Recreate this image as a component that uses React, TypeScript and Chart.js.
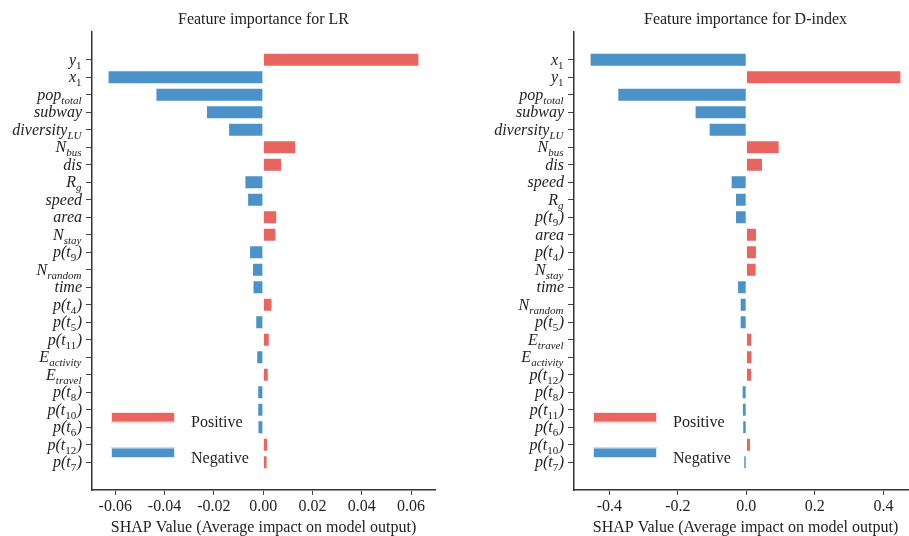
import React, { useEffect, useRef } from "react";
import { Chart, registerables } from "chart.js";

Chart.register(...registerables);

// ---- data ----
const lrFeatures = [
  "y_{1}", "x_{1}", "pop_{total}", "subway", "diversity_{LU}", "N_{bus}", "dis", "R_{g}",
  "speed", "area", "N_{stay}", "p(t_{9})", "N_{random}", "time", "p(t_{4})", "p(t_{5})",
  "p(t_{11})", "E_{activity}", "E_{travel}", "p(t_{8})", "p(t_{10})", "p(t_{6})", "p(t_{12})", "p(t_{7})",
];
const lrValues = [
  0.0634, -0.0631, -0.0437, -0.0232, -0.0142, 0.0134, 0.0077, -0.0076,
  -0.0065, 0.0057, 0.0054, -0.0057, -0.0045, -0.0043, 0.0038, -0.0032,
  0.0027, -0.0028, 0.0023, -0.0024, -0.0024, -0.0023, 0.002, 0.0018,
];
const lrTicks = [-0.06, -0.04, -0.02, 0, 0.02, 0.04, 0.06];

const dFeatures = [
  "x_{1}", "y_{1}", "pop_{total}", "subway", "diversity_{LU}", "N_{bus}", "dis", "speed",
  "R_{g}", "p(t_{9})", "area", "p(t_{4})", "N_{stay}", "time", "N_{random}", "p(t_{5})",
  "E_{travel}", "E_{activity}", "p(t_{12})", "p(t_{8})", "p(t_{11})", "p(t_{6})", "p(t_{10})", "p(t_{7})",
];
const dValues = [
  -0.4575, 0.4526, -0.3767, -0.151, -0.11, 0.0972, 0.0486, -0.0458,
  -0.033, -0.033, 0.031, 0.031, 0.03, -0.027, -0.0195, -0.0195,
  0.0175, 0.018, 0.017, -0.0137, -0.013, -0.012, 0.0136, -0.009,
];
const dTicks = [-0.4, -0.2, 0, 0.2, 0.4];

const legendLabels = ["Positive", "Negative"];
const xAxisTitle = "SHAP Value (Average impact on model output)";

const RED = "#E8665F";
const BLUE = "#4A92C8";
const SERIF = "'Liberation Serif', 'Times New Roman', serif";

type Seg = { text: string; sub: boolean };
function parseLabel(s: string): Seg[] {
  const out: Seg[] = [];
  const re = /_\{([^}]*)\}/g;
  let last = 0;
  let m: RegExpExecArray | null;
  while ((m = re.exec(s))) {
    if (m.index > last) out.push({ text: s.slice(last, m.index), sub: false });
    out.push({ text: m[1], sub: true });
    last = m.index + m[0].length;
  }
  if (last < s.length) out.push({ text: s.slice(last), sub: false });
  return out;
}

function segFont(seg: Seg) {
  if (!seg.sub) return `italic 16px ${SERIF}`;
  if (/^\d+$/.test(seg.text)) return `11px ${SERIF}`;
  return `italic 11px ${SERIF}`;
}

function makeChart(
  canvas: HTMLCanvasElement,
  features: string[],
  values: number[],
  ticks: number[],
  decimals: number,
  title: string
) {
  const n = features.length;
  const lo = Math.min(0, ...values);
  const hi = Math.max(0, ...values);
  const xpad = 0.05 * (hi - lo);
  const yspan = n - 1 + 0.8;
  const ymin = -0.4 - 0.05 * yspan;
  const ymax = n - 1 + 0.4 + 0.05 * yspan;

  const overlay = {
    id: "overlay",
    afterDraw(chart: any) {
      const ctx = chart.ctx as CanvasRenderingContext2D;
      const ca = chart.chartArea;
      const ys = chart.scales.y;
      const cx = (ca.left + ca.right) / 2;
      ctx.save();
      ctx.fillStyle = "#222";
      // title
      ctx.font = `16px ${SERIF}`;
      ctx.textAlign = "center";
      ctx.textBaseline = "alphabetic";
      ctx.fillText(title, cx, 24);
      // x axis title
      ctx.fillText(xAxisTitle, cx, 531.5);
      // y labels with subscripts
      ctx.textAlign = "left";
      features.forEach((lab, i) => {
        const segs = parseLabel(lab);
        let w = 0;
        segs.forEach((s) => {
          ctx.font = segFont(s);
          w += ctx.measureText(s.text).width + (s.sub ? 0.5 : 0);
        });
        const y = ys.getPixelForValue(i) + 5;
        let x = ca.left - 10 - w;
        segs.forEach((s) => {
          ctx.font = segFont(s);
          ctx.fillText(s.text, x, s.sub ? y + 4 : y);
          x += ctx.measureText(s.text).width + (s.sub ? 0.5 : 0);
        });
      });
      // legend
      const lx = ca.left + 19;
      const items = [
        { c: RED, top: ca.bottom - 78, base: ca.bottom - 63 },
        { c: BLUE, top: ca.bottom - 42.5, base: ca.bottom - 27 },
      ];
      ctx.font = `16px ${SERIF}`;
      items.forEach((it, k) => {
        ctx.fillStyle = it.c;
        ctx.fillRect(lx, it.top, 64, 10.5);
        ctx.strokeStyle = "rgba(255,255,255,0.8)";
        ctx.lineWidth = 1;
        ctx.strokeRect(lx + 0.5, it.top + 0.5, 63, 9.5);
        ctx.fillStyle = "#222";
        ctx.fillText(legendLabels[k], ca.left + 99, it.base);
      });
      ctx.restore();
    },
  };

  return new Chart(canvas, {
    type: "bar",
    data: {
      datasets: [
        {
          data: values.map((v, i) => ({ x: v, y: i })),
          backgroundColor: values.map((v) => (v >= 0 ? RED : BLUE)),
          borderColor: "rgba(255,255,255,0.85)",
          borderWidth: 1,
          categoryPercentage: 1,
          barPercentage: 0.8,
        } as any,
      ],
    },
    options: {
      indexAxis: "y",
      animation: false,
      responsive: false,
      events: [],
      layout: { padding: { top: 32, right: 19, left: 0, bottom: 0 } },
      plugins: {
        legend: { display: false },
        tooltip: { enabled: false },
        title: { display: false },
      },
      scales: {
        x: {
          type: "linear",
          position: "bottom",
          bounds: "data",
          min: lo - xpad,
          max: hi + xpad,
          afterBuildTicks: (scale: any) => {
            scale.ticks = ticks.map((v) => ({ value: v }));
          },
          afterFit: (scale: any) => {
            scale.height = 46;
          },
          ticks: {
            callback: (v: any) => Number(v).toFixed(decimals),
            font: { family: SERIF, size: 16 },
            color: "#222",
            padding: 2,
            maxRotation: 0,
            autoSkip: false,
          },
          grid: {
            drawOnChartArea: false,
            drawTicks: true,
            tickLength: 5,
            color: "#444",
            lineWidth: 1,
          },
          border: { display: true, color: "#333", width: 1.5 },
        },
        y: {
          type: "linear",
          position: "left",
          reverse: true,
          offset: false,
          bounds: "data",
          min: ymin,
          max: ymax,
          afterBuildTicks: (scale: any) => {
            scale.ticks = features.map((_, i) => ({ value: i }));
          },
          afterFit: (scale: any) => {
            scale.width = 92;
          },
          ticks: { display: false },
          grid: {
            offset: false,
            drawOnChartArea: false,
            drawTicks: true,
            tickLength: 6,
            color: "#444",
            lineWidth: 1,
          },
          border: { display: true, color: "#333", width: 1.5 },
        },
      },
    } as any,
    plugins: [overlay],
  });
}

function Panel(props: {
  left: number;
  features: string[];
  values: number[];
  ticks: number[];
  decimals: number;
  title: string;
}) {
  const ref = useRef<HTMLCanvasElement>(null);
  useEffect(() => {
    if (!ref.current) return;
    const c = makeChart(ref.current, props.features, props.values, props.ticks, props.decimals, props.title);
    return () => c.destroy();
  }, []);
  return (
    <canvas
      ref={ref}
      width={454}
      height={536}
      style={{ position: "absolute", left: props.left, top: 0, width: 454, height: 536 }}
    />
  );
}

export default function App() {
  return (
    <div
      style={{
        position: "fixed",
        left: 0,
        top: 0,
        width: 909,
        height: 536,
        overflow: "hidden",
        background: "#fff",
      }}
    >
      <Panel left={0} features={lrFeatures} values={lrValues} ticks={lrTicks} decimals={2} title="Feature importance for LR" />
      <Panel left={482} features={dFeatures} values={dValues} ticks={dTicks} decimals={1} title="Feature importance for D-index" />
    </div>
  );
}
